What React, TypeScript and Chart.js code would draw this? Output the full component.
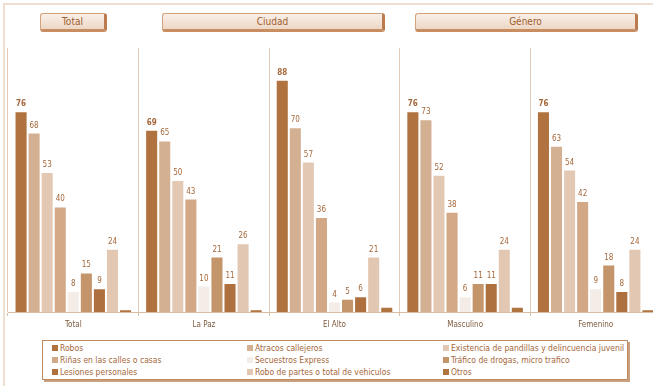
import React, { useEffect, useRef } from "react";
import { Chart, registerables } from "chart.js";

Chart.register(...registerables);

const CATEGORIES = ["Total", "La Paz", "El Alto", "Masculino", "Femenino"];

const SERIES = [
  "Robos",
  "Atracos callejeros",
  "Existencia de pandillas y delincuencia juvenil",
  "Riñas en las calles o casas",
  "Secuestros Express",
  "Tráfico de drogas, micro trafico",
  "Lesiones personales",
  "Robo de partes o total de vehiculos",
  "Otros",
];

const ROBOS = [76, 69, 88, 76, 76];
const ATRACOS = [68, 65, 70, 73, 63];
const PANDILLAS = [53, 50, 57, 52, 54];
const RINAS = [40, 43, 36, 38, 42];
const SECUESTROS = [8, 10, 4, 6, 9];
const TRAFICO = [15, 21, 5, 11, 18];
const LESIONES = [9, 11, 6, 11, 8];
const ROBO_PARTES = [24, 26, 21, 24, 24];
const OTROS = [1, 1, 2, 2, 1];

const VALUES = [ROBOS, ATRACOS, PANDILLAS, RINAS, SECUESTROS, TRAFICO, LESIONES, ROBO_PARTES, OTROS];

const COLORS = [
  "#B07340",
  "#D4B092",
  "#E3C9B4",
  "#D2A886",
  "#F4ECE6",
  "#C4956A",
  "#AF7040",
  "#E2C8B2",
  "#B07440",
];

const GROUPS = [
  { title: "Total", left: 40, width: 67 },
  { title: "Ciudad", left: 162, width: 223 },
  { title: "Género", left: 415, width: 223 },
];

const FONT = "'DejaVu Sans Condensed', 'Liberation Sans', sans-serif";
const TEXT_BROWN = "#A5673A";

// Writes each bar's value above it (the "Otros" series stays unlabelled).
const valueLabels = {
  id: "valueLabels",
  afterDatasetsDraw(chart: any) {
    const ctx = chart.ctx;
    ctx.save();
    ctx.textAlign = "center";
    ctx.textBaseline = "bottom";
    ctx.fillStyle = TEXT_BROWN;
    chart.data.datasets.forEach((ds: any, di: number) => {
      if (di === chart.data.datasets.length - 1) return;
      const meta = chart.getDatasetMeta(di);
      ctx.font = (di === 0 ? "bold " : "") + "8px " + FONT;
      meta.data.forEach((bar: any, i: number) => {
        ctx.fillText(String(ds.data[i]), bar.x, bar.y - 3);
      });
    });
    ctx.restore();
  },
};

function GroupHeader({ title, left, width }: { title: string; left: number; width: number }) {
  return (
    <div
      style={{
        position: "absolute",
        left,
        top: 13,
        width,
        height: 19,
        boxSizing: "border-box",
        borderRadius: 3,
        border: "1px solid #D3A27C",
        borderRightWidth: 3,
        borderBottomWidth: 3,
        borderRightColor: "#BA7C4E",
        borderBottomColor: "#C88D60",
        background: "linear-gradient(#F9F0E9, #EDD7C5)",
        color: "#A0602F",
        font: "10px " + FONT,
        lineHeight: "15px",
        textAlign: "center",
      }}
    >
      {title}
    </div>
  );
}

export default function App() {
  const canvasRef = useRef<HTMLCanvasElement | null>(null);

  useEffect(() => {
    if (!canvasRef.current) return;
    const chart = new Chart(canvasRef.current, {
      type: "bar",
      data: {
        labels: CATEGORIES,
        datasets: SERIES.map((name, i) => ({
          label: name,
          data: VALUES[i],
          backgroundColor: COLORS[i],
          borderColor: "rgba(255,255,255,0.75)",
          borderWidth: 1,
          categoryPercentage: 0.9,
          barPercentage: 1.0,
        })),
      },
      options: {
        animation: false,
        responsive: false,
        devicePixelRatio: 1,
        layout: { padding: { left: 8, top: 48, right: 9, bottom: 0 } },
        plugins: {
          legend: { display: false },
          tooltip: { enabled: false },
        },
        scales: {
          x: {
            offset: true,
            grid: {
              offset: true,
              color: "#E2CDBD",
              lineWidth: 1,
              drawTicks: true,
              tickLength: 4,
              tickColor: "#D9BEA6",
            },
            border: { display: true, color: "#D9BEA6", width: 1 },
            ticks: {
              color: "#7E5A3E",
              font: { family: FONT, size: 8 },
              padding: 4,
            },
            afterFit: (scale: any) => {
              scale.height = 28;
            },
          },
          y: {
            display: false,
            min: 0,
            max: 100,
          },
        },
      },
      plugins: [valueLabels],
    });
    return () => chart.destroy();
  }, []);

  return (
    <div
      style={{
        position: "fixed",
        left: 0,
        top: 0,
        width: 653,
        height: 386,
        overflow: "hidden",
        background: "#FFFFFF",
      }}
    >
      <div
        style={{
          position: "absolute",
          left: 3,
          top: 3,
          width: 700,
          height: 400,
          borderTop: "2px solid #EEDFD3",
          borderLeft: "2px solid #EEDFD3",
        }}
      />
      {GROUPS.map((g) => (
        <GroupHeader key={g.title} {...g} />
      ))}
      <canvas
        ref={canvasRef}
        width={670}
        height={340}
        style={{ position: "absolute", left: 0, top: 0, width: 670, height: 340 }}
      />
      <div
        style={{
          position: "absolute",
          left: 42,
          top: 340,
          width: 586,
          height: 40,
          boxSizing: "border-box",
          border: "1px solid #C08A5E",
          boxShadow: "2px 2px 0 #C9A080",
          background: "#FFFFFF",
        }}
      >
        {SERIES.map((name, i) => {
          const col = i % 3;
          const row = Math.floor(i / 3);
          const xs = [9, 204, 400];
          return (
            <div
              key={name}
              style={{
                position: "absolute",
                left: xs[col],
                top: 1 + row * 12,
                height: 12,
                display: "flex",
                alignItems: "center",
                whiteSpace: "nowrap",
                color: TEXT_BROWN,
                font: "8.5px " + FONT,
              }}
            >
              <span
                style={{
                  display: "inline-block",
                  width: 6,
                  height: 6,
                  marginRight: 2,
                  background: COLORS[i],
                }}
              />
              {name}
            </div>
          );
        })}
      </div>
    </div>
  );
}
